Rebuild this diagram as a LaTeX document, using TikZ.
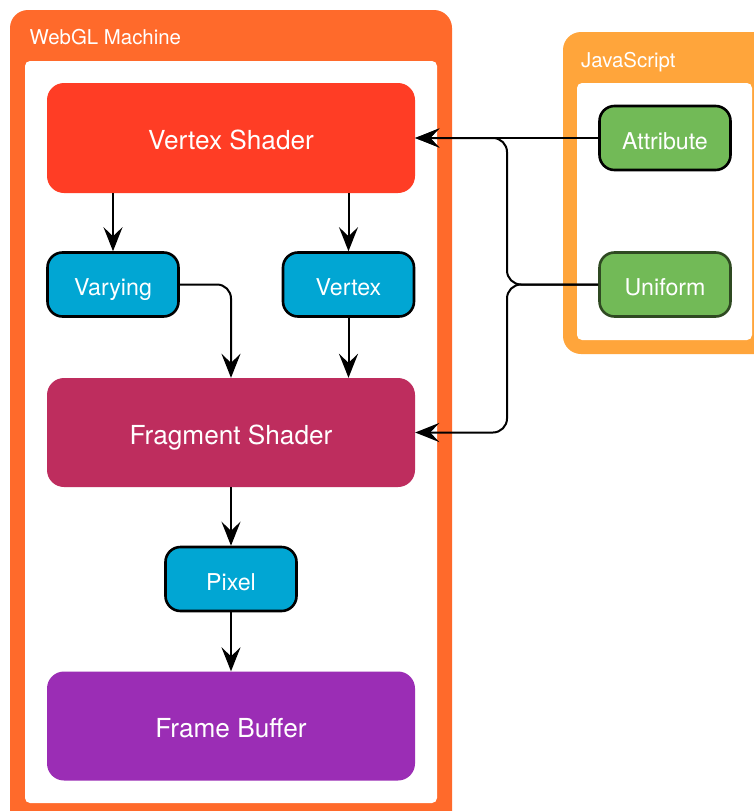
\documentclass[tikz,border=0pt]{standalone}
\usepackage{fontspec}
\setmainfont{TeX Gyre Heros}
\usetikzlibrary{arrows.meta}

\definecolor{glorange}{HTML}{FF6A2B}
\definecolor{jsorange}{HTML}{FFA53B}
\definecolor{vsred}{HTML}{FF3D25}
\definecolor{fsred}{HTML}{BE2D5E}
\definecolor{fbpurple}{HTML}{9B2DB5}
\definecolor{varblue}{HTML}{01A6D3}
\definecolor{jsgreen}{HTML}{72BA57}
\definecolor{darkgreen}{HTML}{2F4A22}

\tikzset{
  stage/.style={rectangle, rounded corners=17pt, minimum width=368pt,
    minimum height=109pt, text=white, font=\fontsize{26.2}{30}\selectfont,
    inner sep=0pt, text height=23pt, text depth=0pt},
  slot/.style={rectangle, rounded corners=15pt, minimum width=131pt,
    minimum height=64pt, line width=2.6pt, draw=black, fill=varblue,
    text=white, font=\fontsize{23.2}{27}\selectfont,
    inner sep=0pt, text height=22pt, text depth=0pt},
  jsslot/.style={slot, fill=jsgreen},
  frametitle/.style={anchor=west, text=white, font=\fontsize{20.4}{24}\selectfont,
    inner sep=0pt, text height=14.6pt, text depth=0pt},
  flow/.style={-{Stealth[length=24pt,width=19pt,inset=9pt]}, line width=2pt, draw=black},
}

\begin{document}
\begin{tikzpicture}[x=1pt, y=-1pt]
\useasboundingbox (0,0) rectangle (754,811);
\fill[white] (0,0) rectangle (754,811);

% WebGL machine frame
\fill[glorange, rounded corners=18pt] (10,10) rectangle (452,830);
\fill[white, rounded corners=5pt] (25,61) rectangle (437,803);
\node[frametitle] (gltitle) at (29.5,37) {WebGL Machine};

% JavaScript frame
\fill[jsorange, rounded corners=18pt] (563,32) rectangle (780,354);
\fill[white, rounded corners=5pt] (577,83) rectangle (752,340);
\node[frametitle] (jstitle) at (581,60) {JavaScript};

% Pipeline stages
\node[stage, fill=vsred, minimum height=110pt] (vs) at (231,138) {Vertex Shader};
\node[slot] (var) at (113,284.5) {Varying};
\node[slot] (vtx) at (348.5,284.5) {Vertex};
\node[stage, fill=fsred] (fs) at (231,432.5) {Fragment Shader};
\node[slot] (pix) at (231,579) {Pixel};
\node[stage, fill=fbpurple] (fb) at (231,726) {Frame Buffer};

% JavaScript inputs
\node[jsslot] (attr) at (665,138) {Attribute};
\node[jsslot, draw=darkgreen] (uni) at (665,284.5) {Uniform};
\coordinate (fork) at (507,284.5);

% Connectors
\draw[flow] (vs.south -| var.north) -- (var.north);
\draw[flow] (vs.south -| vtx.north) -- (vtx.north);
\draw[flow, rounded corners=14pt] (var.east) -| (fs.north);
\draw[flow] (vtx.south) -- (vtx.south |- fs.north);
\draw[flow] (fs.south) -- (pix.north);
\draw[flow] (pix.south) -- (fb.north);

\draw[flow] (attr.west) -- (vs.east);
\draw[flow, rounded corners=14pt] (uni.west) -- (fork) |- (vs.east);
\draw[flow, rounded corners=14pt] (uni.west) -- (fork) |- (fs.east);
\end{tikzpicture}
\end{document}
